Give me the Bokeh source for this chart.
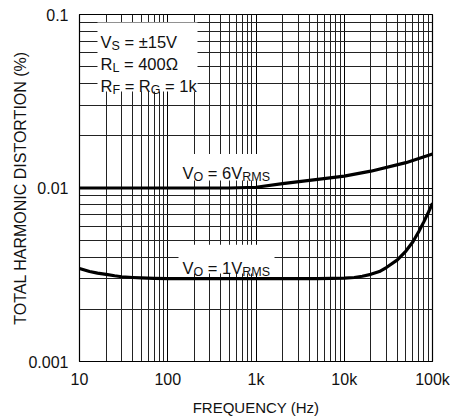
from bokeh.plotting import figure
from bokeh.models import Range1d, FixedTicker
from bokeh.core.properties import value
from bokeh.embed import file_html
from bokeh.resources import INLINE

# ---- data ----
x_tick_values = [10, 100, 1000, 10000, 100000]
x_tick_labels = ["10", "100", "1k", "10k", "100k"]
y_tick_values = [0.001, 0.01, 0.1]
y_tick_labels = ["0.001", "0.01", "0.1"]

freq_6v = [10, 100, 500, 1000, 2000, 5000, 10000, 20000, 50000, 100000]
thd_6v = [0.0100, 0.0100, 0.0100, 0.0101, 0.0106, 0.0112, 0.0117, 0.0125, 0.0140, 0.0157]

freq_1v = [10, 13, 16, 20, 25, 30, 40, 50, 70, 100, 1000, 5000, 10000, 13000,
           16000, 20000, 25000, 30000, 40000, 50000, 60000, 70000, 80000, 90000, 100000]
thd_1v = [0.00344, 0.00330, 0.00323, 0.00318, 0.00312, 0.00308, 0.00305, 0.00303,
          0.00301, 0.00300, 0.00300, 0.00300, 0.00302, 0.00305, 0.00310, 0.00318,
          0.00330, 0.00348, 0.00385, 0.00433, 0.00490, 0.00562, 0.00640, 0.00725, 0.00817]

FONT = "Liberation Sans"

p = figure(width=450, height=418, x_axis_type="log", y_axis_type="log",
           x_range=Range1d(10, 100000), y_range=Range1d(0.001, 0.1),
           output_backend="svg", toolbar_location=None,
           min_border_left=79, min_border_right=18, min_border_top=14, min_border_bottom=53)
p.background_fill_color = "white"
p.border_fill_color = "white"
p.outline_line_color = "black"
p.outline_line_width = 1.2

# grids: every 1..9 multiple inside each decade
xmin = [k * 10 ** d for d in range(1, 5) for k in range(2, 10)]
ymin = [k * 10 ** d for d in range(-3, -1) for k in range(2, 10)]
p.xgrid.ticker = FixedTicker(ticks=x_tick_values, minor_ticks=xmin)
p.ygrid.ticker = FixedTicker(ticks=y_tick_values, minor_ticks=ymin)
for g in (p.xgrid, p.ygrid):
    g.grid_line_color = "black"
    g.grid_line_alpha = 1.0
    g.grid_line_width = 1
    g.minor_grid_line_color = "#222222"
    g.minor_grid_line_width = 1

# axes
p.xaxis.ticker = FixedTicker(ticks=x_tick_values)
p.yaxis.ticker = FixedTicker(ticks=y_tick_values)
p.xaxis.major_label_overrides = {v: l for v, l in zip(x_tick_values, x_tick_labels)}
p.yaxis.major_label_overrides = {v: l for v, l in zip(y_tick_values, y_tick_labels)}
for ax in (p.xaxis, p.yaxis):
    ax.major_tick_line_color = None
    ax.minor_tick_line_color = None
    ax.major_tick_out = 0
    ax.major_tick_in = 0
    ax.axis_line_color = "black"
    ax.major_label_text_font = FONT
    ax.major_label_text_font_size = "16px"
    ax.major_label_text_color = "#111111"
    ax.axis_label_text_font = FONT
    ax.axis_label_text_font_style = "normal"
    ax.axis_label_text_color = "#111111"
p.xaxis.major_label_standoff = 9
p.yaxis.major_label_standoff = 11
p.xaxis.axis_label = "FREQUENCY (Hz)"
p.yaxis.axis_label = "TOTAL HARMONIC DISTORTION (%)"
p.xaxis.axis_label_text_font_size = "15px"
p.yaxis.axis_label_text_font_size = "16px"
p.xaxis.axis_label_standoff = 8
p.yaxis.axis_label_standoff = -4


# page-pixel -> data helper for annotation placement
def to_data(px, py):
    return 10 ** (1 + (px - 79) / 88.25), 10 ** (-1 - (py - 14) / 175.5)


def white_box(x0, y0, x1, y1):
    l, t = to_data(x0, y0)
    r, b = to_data(x1, y1)
    p.quad(left=[l], right=[r], top=[t], bottom=[b], fill_color="white",
           line_color=None)


white_box(97, 22, 197, 92)
white_box(170, 155, 281, 182)
white_box(178, 247, 274, 276)

# curves
p.line(freq_6v, thd_6v, line_color="black", line_width=3.2, line_join="round")
p.line(freq_1v, thd_1v, line_color="black", line_width=3.2, line_join="round")

# rich text with subscripts
W = {'V': 0.667, 'S': 0.667, 'O': 0.778, 'R': 0.722, 'L': 0.556, 'F': 0.611,
     'G': 0.778, 'M': 0.833, ' ': 0.278, '=': 0.584, '±': 0.584, '0': 0.556,
     '1': 0.556, '4': 0.556, '5': 0.556, '6': 0.556, 'k': 0.5, 'Ω': 0.768}
MAIN, SUB = 16.5, 12.5


def rich(px, py, parts):
    x, y = to_data(px, py)
    off = 0.0
    for txt, sub in parts:
        size = SUB if sub else MAIN
        lead = len(txt) - len(txt.lstrip(" "))
        off += lead * W[' '] * size
        core = txt.strip(" ")
        p.text(x=[x], y=[y], text=[core], x_offset=off, y_offset=4 if sub else 0,
               text_font=value(FONT), text_font_size=f"{size}px",
               text_color="#111111", text_align="left", text_baseline="alphabetic")
        off += sum(W.get(c, 0.556) for c in core) * size
        trail = len(txt) - len(txt.rstrip(" "))
        off += trail * W[' '] * size


rich(100, 42, [("V", 0), ("S", 1), (" = ±15V", 0)])
rich(100, 64, [("R", 0), ("L", 1), (" = 400Ω", 0)])
rich(100, 86, [("R", 0), ("F", 1), (" = R", 0), ("G", 1), (" = 1k", 0)])
rich(182, 174, [("V", 0), ("O", 1), (" = 6V", 0), ("RMS", 1)])
rich(182, 270, [("V", 0), ("O", 1), (" = 1V", 0), ("RMS", 1)])

open("out.html", "w").write(file_html(p, INLINE))
